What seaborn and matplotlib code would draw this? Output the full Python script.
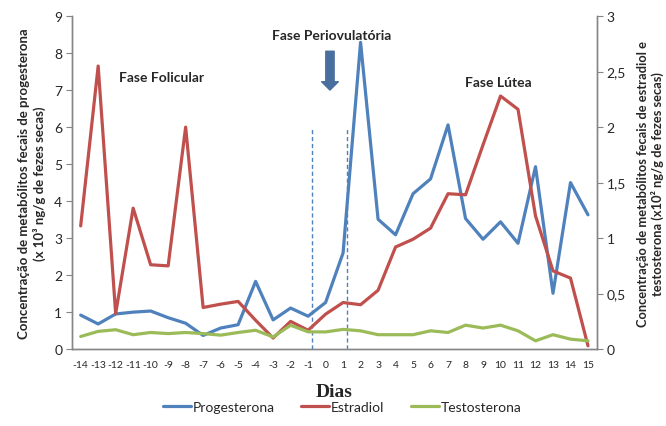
import numpy as np
import pandas as pd
import matplotlib
matplotlib.use("Agg")
import matplotlib.pyplot as plt
import seaborn as sns

dias = list(range(-14, 16))
progesterona = [0.92, 0.68, 0.95, 1.0, 1.03, 0.85, 0.7, 0.37, 0.57, 0.66, 1.83, 0.79, 1.11, 0.89, 1.26,
                2.6, 8.29, 3.51, 3.09, 4.2, 4.6, 6.06, 3.53, 2.97, 3.44, 2.86, 4.93, 1.51, 4.5, 3.63]
estradiol = [1.11, 2.55, 0.32, 1.27, 0.76, 0.75, 2.0, 0.375, 0.405, 0.43, 0.26, 0.1, 0.25, 0.17, 0.315,
             0.42, 0.4, 0.53, 0.92, 0.99, 1.09, 1.4, 1.39, 1.84, 2.28, 2.16, 1.2, 0.705, 0.64, 0.03]
testosterona = [0.114, 0.16, 0.175, 0.13, 0.15, 0.14, 0.15, 0.14, 0.126, 0.15, 0.17, 0.11, 0.215, 0.156, 0.155,
                0.178, 0.165, 0.13, 0.13, 0.13, 0.165, 0.15, 0.216, 0.19, 0.216, 0.165, 0.075, 0.13, 0.09, 0.075]

df = pd.DataFrame({"dia": dias, "Progesterona": progesterona,
                   "Estradiol": estradiol, "Testosterona": testosterona})

azul, vermelho, verde = "#4F81BD", "#C0504D", "#9BBB59"
cinza = "#868686"

sns.set_style("white")
plt.rcParams["font.family"] = ["Lato", "DejaVu Sans"]

fig = plt.figure(figsize=(6.66, 4.27), dpi=100)
ax = fig.add_axes([0.108, 0.180, 0.788, 0.780])
ax2 = ax.twinx()

sns.lineplot(data=df, x="dia", y="Progesterona", ax=ax, color=azul, lw=2.3, label="Progesterona", legend=False)
sns.lineplot(data=df, x="dia", y="Estradiol", ax=ax2, color=vermelho, lw=2.3, label="Estradiol", legend=False)
sns.lineplot(data=df, x="dia", y="Testosterona", ax=ax2, color=verde, lw=2.3, label="Testosterona", legend=False)

ax.set_xlim(-14.5, 15.5)
ax.set_ylim(0, 9)
ax2.set_ylim(0, 3)
ax.set_xticks(dias)
ax.set_xticklabels([str(d) for d in dias], fontsize=7.5)
ax.set_yticks(range(10))
ax.tick_params(axis="y", labelsize=10, length=4, color=cinza, direction="out", left=True, pad=3)
ax.tick_params(axis="x", length=0, pad=8)
ax2.set_yticks([0, 0.5, 1, 1.5, 2, 2.5, 3])
ax2.set_yticklabels(["0", "0,5", "1", "1,5", "2", "2,5", "3"])
ax2.tick_params(axis="y", labelsize=10, length=4, color=cinza, direction="out", right=True, pad=3)
ax2.set_ylabel("")

for a in (ax, ax2):
    for s in a.spines.values():
        s.set_color(cinza)
        s.set_linewidth(1.0)
    a.spines["top"].set_visible(False)

ax.set_xlabel("Dias", fontsize=14, fontweight="bold", family="Liberation Serif", labelpad=10)
ax.set_ylabel("Concentração de metabólitos fecais de progesterona\n(x 10³ ng/g de fezes secas)",
              fontsize=9.5, fontweight="bold", labelpad=6)
fig.text(0.977, 0.570,
         "Concentração de metabólitos fecais de estradiol e\ntestosterona (x10² ng/g de fezes secas)",
         fontsize=9.3, fontweight="bold", rotation=90, ha="center", va="center", multialignment="center")

# periovulatory window
for xv in (-0.8, 1.2):
    ax.vlines(xv, 0, 6, color=azul, lw=1.0, linestyles=(0, (3, 2)))
ax.annotate("", xy=(0.25, 7.0), xytext=(0.25, 8.05),
            arrowprops=dict(facecolor="#4A6E9E", edgecolor="#4A6E9E", width=6, headwidth=12, headlength=6))

ax.text(-9.4, 7.35, "Fase Folicular", fontsize=10, fontweight="bold", ha="center", va="center")
ax.text(0.35, 8.5, "Fase Periovulatória", fontsize=10, fontweight="bold", ha="center", va="center")
ax.text(9.9, 7.22, "Fase Lútea", fontsize=10, fontweight="bold", ha="center", va="center")

handles = ax.get_lines()[:1] + ax2.get_lines()[:2]
fig.legend(handles, ["Progesterona", "Estradiol", "Testosterona"], loc="center",
           bbox_to_anchor=(0.514, 0.045), ncol=3, frameon=False, fontsize=10,
           handlelength=2.0, handletextpad=0.15, columnspacing=1.9)

fig.savefig("out.png", dpi=100)
